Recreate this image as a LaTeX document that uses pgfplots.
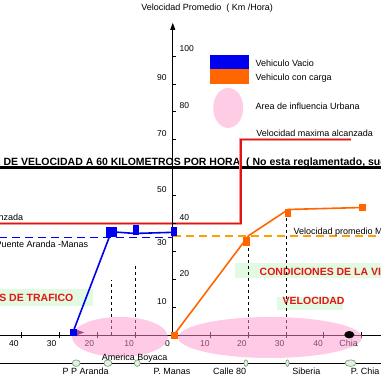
\documentclass[border=0pt]{standalone}
\usepackage{fontspec}
\setmainfont{Liberation Sans}
\usepackage{pgfplots}
\pgfplotsset{compat=1.18}
\usetikzlibrary{arrows.meta}
\definecolor{cblue}{RGB}{0,0,240}
\definecolor{corange}{RGB}{255,102,0}
\definecolor{cdash}{RGB}{255,160,0}
\definecolor{cred}{RGB}{225,20,20}
\definecolor{cpink}{RGB}{255,150,205}
\definecolor{cpinkL}{RGB}{255,204,230}
\definecolor{cgreen}{RGB}{225,250,225}
\definecolor{ctxt}{RGB}{230,20,20}
\definecolor{cgo}{RGB}{110,150,110}
\definecolor{cgf}{RGB}{225,242,225}
\begin{document}
\begin{tikzpicture}[font=\fontsize{9}{10}\selectfont]
\useasboundingbox (0,0) rectangle (381pt,381pt);
\clip (0,0) rectangle (381pt,381pt);
\begin{axis}[at={(0,0)},anchor=south west,scale only axis,width=381pt,height=381pt,
  xmin=-45.8,xmax=55.2,ymin=-16.5,ymax=120.1,hide axis,clip=false,
  every node/.append style={inner sep=0pt}]
% green boxes
\fill[cgreen] (-46,16.5) rectangle (-21.2,10.4);
\fill[cgreen] (16.5,25.8) rectangle (56,20.4);
\fill[cgreen] (27.7,13.7) rectangle (45.2,9.0);
\node[anchor=base east,text=ctxt,font=\fontsize{10.5}{12}\selectfont\bfseries] at (-25.4,11.9) {CONDICIONES DE TRAFICO};
\node[anchor=base west,text=ctxt,font=\fontsize{10.5}{12}\selectfont\bfseries] at (22.1,21.5) {CONDICIONES DE LA VIA};
\node[anchor=base west,text=ctxt,font=\fontsize{10.5}{12}\selectfont\bfseries] at (28.2,10.75) {VELOCIDAD};
% limit line
\addplot[black,line width=3.2pt] coordinates {(-46,60) (56,60)};
\node[anchor=base west,font=\fontsize{10.5}{12}\selectfont\bfseries] at (-45.8,60.9) {\llap{LIMITE }DE VELOCIDAD A 60 KILOMETROS POR HORA \ ( No esta reglamentado, sugerido)};
% red max speed
\addplot[cred!45,line width=2.8pt] coordinates {(-46,40) (18.0,40) (18.0,70.1) (47.3,70.1)};
\addplot[cred,line width=1.7pt] coordinates {(-46,40) (18.0,40) (18.0,70.1) (47.3,70.1)};
\node[anchor=base west] at (21.2,71.3) {Velocidad maxima alcanzada};
\node[anchor=base east] at (-38.7,41.0) {Velocidad maxima alcanzada};
% axes
\draw[line width=0.8pt] (-46,0) -- (56,0);
\draw[line width=0.8pt,-{Triangle[width=5pt,length=7pt]}] (0,0) -- (0,111.9);
\draw[line width=0.8pt] (-40,-1.1) -- (-40,1.1);
\draw[line width=0.8pt] (-30,-1.1) -- (-30,1.1);
\draw[line width=0.8pt] (-20,-1.1) -- (-20,1.1);
\draw[line width=0.8pt] (-10,-1.1) -- (-10,1.1);
\draw[line width=0.8pt] (10,-1.1) -- (10,1.1);
\draw[line width=0.8pt] (20,-1.1) -- (20,1.1);
\draw[line width=0.8pt] (30,-1.1) -- (30,1.1);
\draw[line width=0.8pt] (40,-1.1) -- (40,1.1);
\draw[line width=0.8pt] (50,-1.1) -- (50,1.1);
\draw[line width=0.8pt] (0,10) -- (0.8,10);
\draw[line width=0.8pt] (0,20) -- (0.8,20);
\draw[line width=0.8pt] (0,30) -- (0.8,30);
\draw[line width=0.8pt] (0,40) -- (0.8,40);
\draw[line width=0.8pt] (0,50) -- (0.8,50);
\draw[line width=0.8pt] (0,70) -- (0.8,70);
\draw[line width=0.8pt] (0,80) -- (0.8,80);
\draw[line width=0.8pt] (0,90) -- (0.8,90);
\draw[line width=0.8pt] (0,100) -- (0.8,100);
% y tick labels
\begin{scope}[font=\fontsize{8.5}{10}\selectfont]
\node[anchor=base west] at (0.9,101.5) {100};
\node[anchor=base east] at (-0.7,91.4) {90};
\node[anchor=base west] at (0.9,81.3) {80};
\node[anchor=base east] at (-0.7,71.1) {70};
\node[anchor=base east] at (-0.7,51.0) {50};
\node[anchor=base west] at (0.9,41.1) {40};
\node[anchor=base east] at (-0.7,32.0) {30};
\node[anchor=base west] at (0.9,20.9) {20};
\node[anchor=base east] at (-0.7,11.1) {10};
% x tick labels
\node[anchor=base] at (-42.1,-4.2) {40};
\node[anchor=base] at (-32.1,-4.2) {30};
\node[anchor=base] at (-22.1,-4.2) {20};
\node[anchor=base] at (-11.6,-4.2) {10};
\node[anchor=base] at (-1.4,-4.2) {0};
\node[anchor=base] at (8.5,-4.2) {10};
\node[anchor=base] at (18.3,-4.2) {20};
\node[anchor=base] at (28.3,-4.2) {30};
\node[anchor=base] at (38.5,-4.2) {40};
\end{scope}
\node[anchor=base] at (46.6,-4.2) {Chia};
% dashed verticals
\draw[line width=0.5pt,dash pattern=on 3pt off 3pt] (-16.2,0) -- (-16.2,19.7);
\draw[line width=0.5pt,dash pattern=on 3pt off 3pt] (-10,0) -- (-10,25.8);
\draw[line width=0.5pt,dash pattern=on 3pt off 3pt] (20,0) -- (20,34);
\draw[line width=0.5pt,dash pattern=on 3pt off 3pt] (30,0) -- (30,44);
% average speeds
\addplot[cblue,line width=1.6pt,dash pattern=on 8pt off 5pt] coordinates {(-46,34.9) (0,34.9)};
\addplot[cdash,line width=1.6pt,dash pattern=on 8pt off 5pt] coordinates {(0,35.5) (56,35.5)};
\node[anchor=base east] at (-21.5,31.2) {Velocidad promedio Puente Aranda -Manas};
\node[anchor=base west] at (31.1,36.1) {Velocidad promedio Manas -Chia};
% purple mark at start
\fill[black!40!violet] (-25.6,2.0) -- (-23.5,0.9) -- (-25.6,-0.2) -- cycle;
% series: vehiculo vacio
\addplot[cblue,line width=1.6pt] coordinates {(-26.6,0.5) (-16.3,37.0) (-10,36.4) (0,36.8)};
\addplot[only marks,mark=square*,mark size=3pt,cblue] coordinates {(-26.5,1.1)};
\addplot[only marks,mark=square*,mark size=4.8pt,cblue] coordinates {(-16.3,37.0)};
\addplot[only marks,mark=square*,mark size=4.5pt,mark options={xscale=0.55},cblue] coordinates {(-9.8,37.8)};
\addplot[only marks,mark=square*,mark size=4pt,mark options={xscale=0.6},cblue] coordinates {(0.2,37.3)};
% series: vehiculo con carga
\addplot[corange,line width=1.6pt] coordinates {(0.3,0) (20.1,35.6) (30.6,45.0) (50.2,45.7)};
\addplot[only marks,mark=square*,mark size=3pt,corange] coordinates {(0.27,0)};
\addplot[only marks,mark=square*,mark size=4pt,mark options={xscale=0.75},corange] coordinates {(19.5,33.8)};
\addplot[only marks,mark=square*,mark size=3.4pt,mark options={xscale=0.75},corange] coordinates {(30.4,43.8)};
\addplot[only marks,mark=square*,mark size=3.3pt,corange] coordinates {(50.2,45.8)};
% urban influence areas
\fill[cpink,fill opacity=0.5] (-14,-0.7) ellipse [x radius=48pt,y radius=20pt];
\fill[cpink,fill opacity=0.5] (25.8,-0.9) ellipse [x radius=92pt,y radius=20.5pt];
\fill[black] (46.8,0.1) ellipse [x radius=5pt,y radius=3.7pt];
% bottom route line
\draw[line width=0.8pt] (-46,-10.1) -- (56,-10.1);
\draw[cgo,fill=cgf,line width=0.6pt] (-25.6,-10.1) ellipse [x radius=4pt,y radius=3.3pt];
\draw[cgo,fill=cgf,line width=0.6pt] (-17.2,-10.1) ellipse [x radius=4pt,y radius=3.3pt];
\draw[cgo,fill=cgf,line width=0.6pt] (-9.4,-10.1) ellipse [x radius=3pt,y radius=3.3pt];
\draw[cgo,fill=cgf,line width=0.6pt] (19.4,-10.1) ellipse [x radius=2pt,y radius=3.3pt];
\draw[cgo,fill=cgf,line width=0.6pt] (30.4,-10.1) ellipse [x radius=1.7pt,y radius=3.3pt];
\draw[cgo,fill=cgf,line width=0.6pt] (47.1,-10.1) ellipse [x radius=5.5pt,y radius=3.3pt];
\node[anchor=base] at (-23.1,-14.3) {P P Aranda};
\node[anchor=base] at (-10.1,-9.0) {America Boyaca};
\node[anchor=base] at (-0.2,-14.3) {P. Manas};
\node[anchor=base] at (15.1,-14.3) {Calle 80};
\node[anchor=base] at (35.4,-14.3) {Siberia};
\node[anchor=base] at (51.0,-14.3) {P. Chia};
% legend
\fill[cblue] (9.9,100.4) rectangle (20.2,95.3);
\fill[corange] (9.9,95.3) rectangle (20.2,90.0);
\fill[cpinkL] (14.7,81.4) ellipse [x radius=15pt,y radius=20pt];
\node[anchor=base west] at (21.0,96.3) {Vehiculo Vacio};
\node[anchor=base west] at (21.0,91.1) {Vehiculo con carga};
\node[anchor=base west] at (21.0,81.0) {Area de influencia Urbana};
% title
\node[anchor=base] at (9.1,116.3) {Velocidad Promedio \ ( Km /Hora)};
\end{axis}
\end{tikzpicture}
\end{document}
